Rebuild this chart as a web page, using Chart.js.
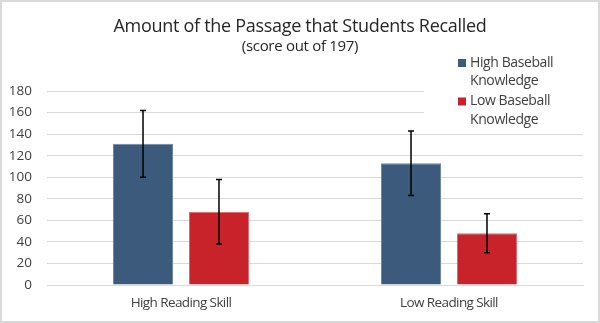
<!DOCTYPE html>
<html>
<head>
<meta charset="utf-8">
<script src="https://cdn.jsdelivr.net/npm/chart.js@4/dist/chart.umd.min.js"></script>
<style>
  html, body { margin: 0; padding: 0; background: #fff; }
  #wrap { width: 600px; height: 323px; }
</style>
</head>
<body>
<div id="wrap"><canvas id="chart" width="600" height="323"></canvas></div>
<script>
// Recall scores by reading skill and baseball knowledge
const chartTitle = 'Amount of the Passage that Students Recalled';
const chartSubtitle = '(score out of 197)';
const categories = ['High Reading Skill', 'Low Reading Skill'];
const seriesNames = ['High Baseball Knowledge', 'Low Baseball Knowledge'];
const highKnowledge = [131, 113];
const lowKnowledge = [68, 48];
const highKnowledgeErr = [31, 30];
const lowKnowledgeErr = [30, 18];
const yTicks = [0, 20, 40, 60, 80, 100, 120, 140, 160, 180];

const FONT = "'Open Sans', 'Noto Sans', sans-serif";
const BLUE = '#3c5a7c';
const RED = '#c8232a';
const TEXT = '#404040';

function drawText(c, str, x, y, size, spacing, color, align) {
    c.save();
    c.font = size + 'px ' + FONT;
    c.letterSpacing = spacing + 'px';
    c.fillStyle = color;
    c.textAlign = align || 'center';
    c.textBaseline = 'middle';
    c.fillText(str, x, y);
    c.restore();
}

// white page, thin gray frame, title lines
const frame = {
    id: 'frame',
    beforeDraw(chart) {
        const c = chart.ctx;
        c.save();
        c.fillStyle = '#fff';
        c.fillRect(0, 0, chart.width, chart.height);
        c.restore();
    },
    afterDraw(chart) {
        const c = chart.ctx;
        drawText(c, chartTitle, 300, 27, 18, -0.3, '#262626');
        drawText(c, chartSubtitle, 300, 47, 15, -0.3, '#262626');
        c.save();
        c.strokeStyle = '#d9d9d9';
        c.lineWidth = 2;
        c.strokeRect(1, 1, chart.width - 2, chart.height - 2);
        c.restore();
    }
};

// category names under the x axis, slightly tighter tracking than default ticks
const xLabels = {
    id: 'xLabels',
    afterDraw(chart) {
        const x = chart.scales.x;
        chart.data.labels.forEach((lab, i) => {
            drawText(chart.ctx, lab, x.getPixelForTick(i), x.top + 18, 13.5, -0.6, TEXT);
        });
    }
};

// standard deviation whiskers on each bar
const errorBars = {
    id: 'errorBars',
    afterDatasetsDraw(chart) {
        const c = chart.ctx;
        const y = chart.scales.y;
        c.save();
        c.strokeStyle = '#000';
        c.lineWidth = 1.5;
        chart.data.datasets.forEach((ds, i) => {
            chart.getDatasetMeta(i).data.forEach((bar, j) => {
                const v = ds.data[j];
                const e = ds.errors[j];
                const top = y.getPixelForValue(v + e);
                const bot = y.getPixelForValue(v - e);
                c.beginPath();
                c.moveTo(bar.x, top); c.lineTo(bar.x, bot);
                c.moveTo(bar.x - 3, top); c.lineTo(bar.x + 3, top);
                c.moveTo(bar.x - 3, bot); c.lineTo(bar.x + 3, bot);
                c.stroke();
            });
        });
        c.restore();
    }
};

// legend at the upper right, two lines per entry, sitting over the gridlines
const wrapLegend = {
    id: 'wrapLegend',
    beforeDatasetsDraw(chart) {
        const c = chart.ctx;
        c.save();
        c.fillStyle = '#fff';
        c.fillRect(424, 52, 170, 76);
        c.restore();
    },
    afterDraw(chart) {
        const c = chart.ctx;
        let yPos = 63;
        chart.data.datasets.forEach(ds => {
            const words = ds.label.split(' ');
            const lines = [words.slice(0, 2).join(' '), words.slice(2).join(' ')];
            c.save();
            c.fillStyle = ds.backgroundColor;
            c.fillRect(458, yPos - 4, 8, 8);
            c.restore();
            lines.forEach((ln, k) => drawText(c, ln, 470, yPos + k * 18.5, 14, -0.4, TEXT, 'left'));
            yPos += 38.5;
        });
    }
};

new Chart(document.getElementById('chart'), {
    type: 'bar',
    data: {
        labels: categories,
        datasets: [
            {
                label: seriesNames[0],
                data: highKnowledge,
                errors: highKnowledgeErr,
                backgroundColor: BLUE,
                borderColor: '#6f89a6',
                borderWidth: 1
            },
            {
                label: seriesNames[1],
                data: lowKnowledge,
                errors: lowKnowledgeErr,
                backgroundColor: RED,
                borderColor: '#e06a6f',
                borderWidth: 1
            }
        ]
    },
    options: {
        responsive: false,
        animation: false,
        devicePixelRatio: 1,
        categoryPercentage: 0.567,
        barPercentage: 0.79,
        layout: { padding: { left: 0, right: 17, top: 91, bottom: 12 } },
        plugins: {
            legend: { display: false },
            tooltip: { enabled: false }
        },
        scales: {
            x: {
                grid: { display: false, drawTicks: false },
                border: { color: '#d9d9d9' },
                ticks: { display: false },
                afterFit(scale) { scale.height = 26; }
            },
            y: {
                min: 0,
                max: 180,
                afterBuildTicks(scale) { scale.ticks = yTicks.map(v => ({ value: v })); },
                grid: { color: '#d9d9d9', drawTicks: false },
                border: { display: false },
                ticks: { color: TEXT, padding: 15, font: { family: FONT, size: 13.5 } },
                afterFit(scale) { scale.width = 47; }
            }
        }
    },
    plugins: [frame, xLabels, errorBars, wrapLegend]
});
</script>
</body>
</html>
